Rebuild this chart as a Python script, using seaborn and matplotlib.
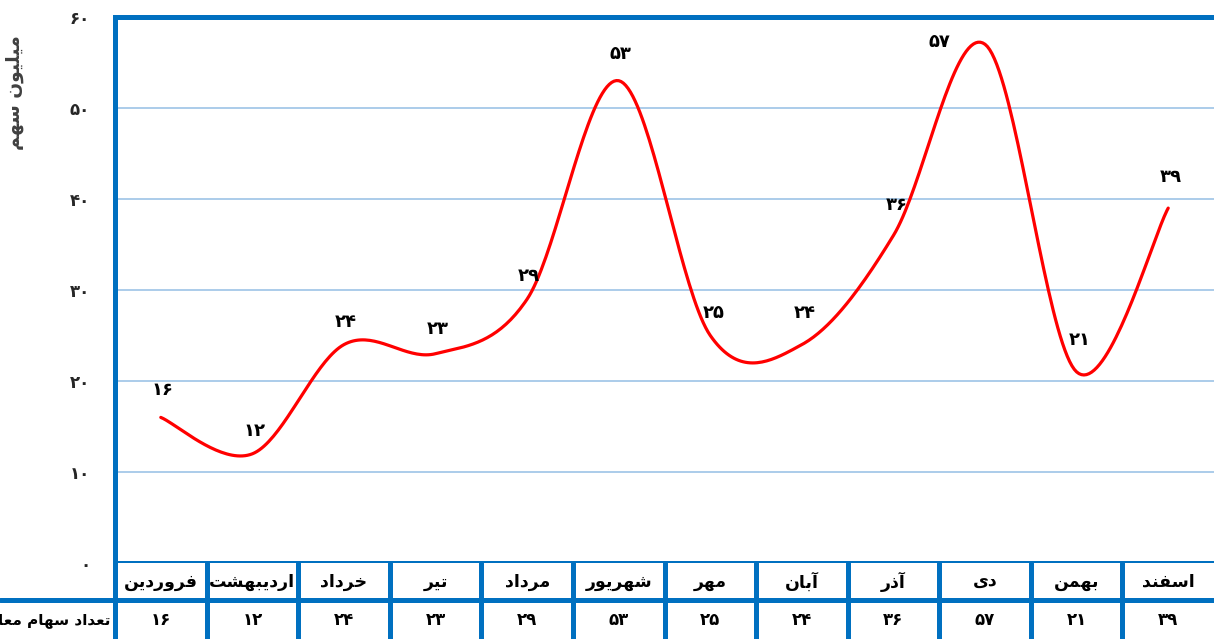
import numpy as np
import pandas as pd
import matplotlib
matplotlib.use("Agg")
import matplotlib.pyplot as plt
from matplotlib.lines import Line2D
import seaborn as sns

# ---------------- data ----------------
months = ["فروردین", "اردیبهشت", "خرداد", "تیر", "مرداد", "شهریور",
          "مهر", "آبان", "آذر", "دی", "بهمن", "اسفند"]
values = [16, 12, 24, 23, 29, 53, 25, 24, 36, 57, 21, 39]
y_ticks = [0, 10, 20, 30, 40, 50, 60]
y_label = "میلیون سهم"
row_label = "تعداد سهام معا"
# label offsets in pixels (dx, dy) relative to the data point
label_offsets = [(2, 27), (2, 23), (2, 23), (2, 25), (2, 23), (2, 27),
                 (3, 23), (3, 32), (3, 30), (-46, 2), (3, 32), (3, 31)]

# ---------------- helpers ----------------
FA_DIGITS = str.maketrans("0123456789", "۰۱۲۳۴۵۶۷۸۹")


def fa(n):
    return str(n).translate(FA_DIGITS)


# (isolated, final, initial, medial)
FORMS = {
    "ا": ("\uFE8D", "\uFE8E", None, None),
    "آ": ("\uFE81", "\uFE82", None, None),
    "ب": ("\uFE8F", "\uFE90", "\uFE91", "\uFE92"),
    "ت": ("\uFE95", "\uFE96", "\uFE97", "\uFE98"),
    "خ": ("\uFEA5", "\uFEA6", "\uFEA7", "\uFEA8"),
    "د": ("\uFEA9", "\uFEAA", None, None),
    "ذ": ("\uFEAB", "\uFEAC", None, None),
    "ر": ("\uFEAD", "\uFEAE", None, None),
    "س": ("\uFEB1", "\uFEB2", "\uFEB3", "\uFEB4"),
    "ش": ("\uFEB5", "\uFEB6", "\uFEB7", "\uFEB8"),
    "ع": ("\uFEC9", "\uFECA", "\uFECB", "\uFECC"),
    "ف": ("\uFED1", "\uFED2", "\uFED3", "\uFED4"),
    "ل": ("\uFEDD", "\uFEDE", "\uFEDF", "\uFEE0"),
    "م": ("\uFEE1", "\uFEE2", "\uFEE3", "\uFEE4"),
    "ن": ("\uFEE5", "\uFEE6", "\uFEE7", "\uFEE8"),
    "ه": ("\uFEE9", "\uFEEA", "\uFEEB", "\uFEEC"),
    "و": ("\uFEED", "\uFEEE", None, None),
    "ی": ("\uFBFC", "\uFBFD", "\uFBFE", "\uFBFF"),
}


def shape(text):
    out = []
    for i, ch in enumerate(text):
        if ch not in FORMS:
            out.append(ch)
            continue
        prev = text[i - 1] if i > 0 else None
        nxt = text[i + 1] if i + 1 < len(text) else None
        pj = prev in FORMS and FORMS[prev][2] is not None
        nj = nxt in FORMS and FORMS[ch][2] is not None
        iso, fin, ini, med = FORMS[ch]
        if pj and nj:
            out.append(med)
        elif pj:
            out.append(fin)
        elif nj:
            out.append(ini)
        else:
            out.append(iso)
    return "".join(out)[::-1]


def smooth(xs, ys, n=40):
    # Excel-like smoothed line (Catmull-Rom style cubic Bezier)
    P = np.column_stack([xs, ys]).astype(float)
    Pext = np.vstack([P[0], P, P[-1]])
    sx, sy = [], []
    t = np.linspace(0, 1, n)
    for i in range(len(P) - 1):
        p0, p1, p2, p3 = Pext[i], Pext[i + 1], Pext[i + 2], Pext[i + 3]
        c1 = p1 + (p2 - p0) / 6.0
        c2 = p2 - (p3 - p1) / 6.0
        b = ((1 - t) ** 3)[:, None] * p1 + (3 * (1 - t) ** 2 * t)[:, None] * c1 \
            + (3 * (1 - t) * t ** 2)[:, None] * c2 + (t ** 3)[:, None] * p2
        sx.extend(b[:, 0])
        sy.extend(b[:, 1])
    return np.array(sx), np.array(sy)


# ---------------- figure ----------------
sns.set_style("white")
plt.rcParams["font.family"] = ["DejaVu Sans"]

W, H = 1214, 639
BLUE = "#0070C0"
GRID = "#9DC3E6"
FRAME_LW = 3.6

fig = plt.figure(figsize=(W / 100, H / 100), dpi=100)
left, right = 115, 1214
top, bottom = 17, 563
ax = fig.add_axes([left / W, (H - bottom) / H, (right - left) / W, (bottom - top) / H])

x_idx = np.arange(len(values))
sx, sy = smooth(x_idx, values)
df = pd.DataFrame({"x": sx, "y": sy})
sns.lineplot(data=df, x="x", y="y", sort=False, estimator=None, ax=ax,
             color="#FF0000", linewidth=2.3)

ax.set_xlim(-0.5, len(values) - 0.5)
ax.set_ylim(0, 60)
ax.set_xticks([])
ax.set_yticks(y_ticks)
ax.set_yticklabels([fa(v) for v in y_ticks], fontsize=12, fontweight="bold")
ax.tick_params(axis="y", length=0, pad=18)
ax.set_xlabel("")
ax.set_ylabel("")
for v in y_ticks[1:-1]:
    ax.axhline(v, color=GRID, linewidth=1.2, zorder=0)

for s in ["left", "top", "bottom"]:
    ax.spines[s].set_visible(True)
    ax.spines[s].set_color(BLUE)
    ax.spines[s].set_linewidth(FRAME_LW)
ax.spines["right"].set_visible(False)

for i, v in enumerate(values):
    dx, dy = label_offsets[i]
    ax.annotate(fa(v), (i, v), xytext=(dx, dy), textcoords="offset pixels",
                ha="center", va="center", fontsize=13, fontweight="bold",
                color="black")

fig.text(15 / W, 1 - 93 / H, shape(y_label), rotation=90, ha="center", va="center",
         fontsize=13.5, fontweight="bold", color="#404040")

# ---------------- data table ----------------
tax = fig.add_axes([left / W, 0, (right - left) / W, (H - bottom) / H])
tax.set_xlim(-0.5, len(values) - 0.5)
tax.set_ylim(0, 2)
tax.set_xticks([])
tax.set_yticks([])
for s in ["top", "right", "bottom"]:
    tax.spines[s].set_visible(False)
tax.spines["left"].set_color(BLUE)
tax.spines["left"].set_linewidth(FRAME_LW)
for i in range(len(values) - 1):
    tax.axvline(i + 0.5, color=BLUE, linewidth=FRAME_LW)
for i, (m, v) in enumerate(zip(months, values)):
    tax.text(i, 1.5, shape(m), ha="center", va="center", fontsize=12.5,
             fontweight="bold", color="black")
    tax.text(i, 0.5, fa(v), ha="center", va="center", fontsize=12,
             fontweight="bold", color="black")

fig.add_artist(Line2D([0, 1], [(H - 600) / H] * 2, transform=fig.transFigure,
                      color=BLUE, linewidth=FRAME_LW))
fig.text(111 / W, (H - 620) / H, shape(row_label), ha="right", va="center",
         fontsize=11, fontweight="bold", color="black")

fig.savefig("out.png", dpi=100)
